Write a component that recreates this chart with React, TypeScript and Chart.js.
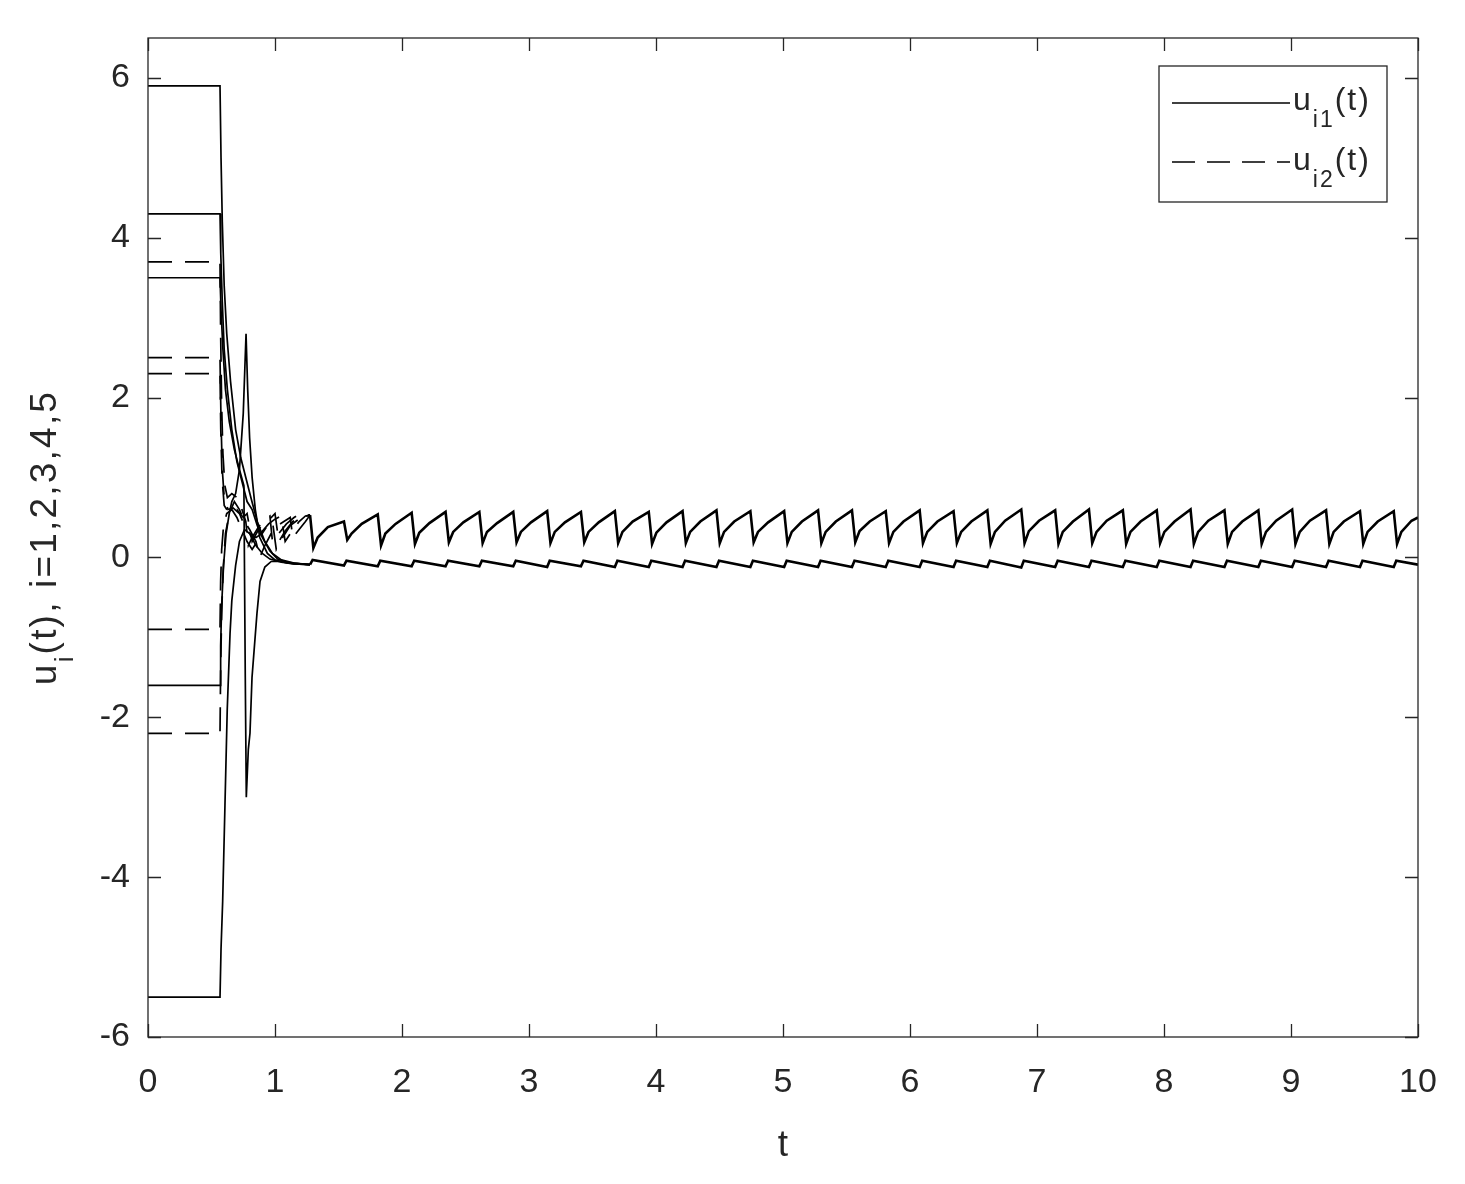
import React, { useEffect, useRef } from "react";
import { Chart, registerables } from "chart.js";

Chart.register(...registerables);

type Pt = [number, number];

// ---- axis ticks ----
const xTicks: number[] = [0, 1, 2, 3, 4, 5, 6, 7, 8, 9, 10];
const yTicks: number[] = [-6, -4, -2, 0, 2, 4, 6];

// ---- u_i1(t) (solid) transients ----
const u11: Pt[] = [[0, 5.9], [0.567, 5.9], [0.575, 5.0], [0.585, 4.2], [0.6, 3.4], [0.62, 2.8], [0.65, 2.2], [0.69, 1.6], [0.73, 1.25], [0.77, 1.0], [0.81, 0.75], [0.86, 0.45], [0.92, 0.2], [0.98, 0.05], [1.05, -0.03], [1.15, -0.07], [1.276, -0.09]];
const u21: Pt[] = [[0, 4.3], [0.567, 4.3], [0.573, 3.8], [0.585, 3.2], [0.6, 2.6], [0.625, 2.1], [0.66, 1.6], [0.7, 1.2], [0.74, 0.95], [0.78, 0.7], [0.82, 0.6], [0.86, 0.4], [0.9, 0.25], [0.96, 0.08], [1.02, -0.02], [1.1, -0.06], [1.2, -0.08], [1.276, -0.09]];
const u31: Pt[] = [[0, 3.5], [0.567, 3.5], [0.575, 3.1], [0.59, 2.6], [0.61, 2.1], [0.64, 1.7], [0.68, 1.35], [0.72, 1.1], [0.755, 0.9], [0.766, -1.5], [0.774, -3.0], [0.79, -2.4], [0.803, -2.2], [0.819, -1.5], [0.858, -0.7], [0.882, -0.3], [0.92, -0.12], [0.97, -0.05], [1.05, -0.05], [1.15, -0.08], [1.276, -0.09]];
const u41: Pt[] = [[0, -1.6], [0.567, -1.6], [0.572, -1.1], [0.58, -0.6], [0.595, -0.1], [0.615, 0.3], [0.64, 0.55], [0.66, 0.7], [0.69, 0.8], [0.72, 1.1], [0.75, 1.8], [0.772, 2.8], [0.785, 2.1], [0.8, 1.5], [0.82, 1.0], [0.845, 0.6], [0.88, 0.25], [0.94, 0.05], [1.0, -0.03], [1.1, -0.07], [1.2, -0.08], [1.276, -0.09]];
const u51: Pt[] = [[0, -5.5], [0.567, -5.5], [0.575, -4.9], [0.588, -4.3], [0.606, -3.1], [0.624, -1.9], [0.646, -0.95], [0.66, -0.54], [0.69, -0.1], [0.72, 0.2], [0.76, 0.35], [0.8, 0.3], [0.85, 0.15], [0.9, 0.05], [0.96, -0.02], [1.05, -0.06], [1.15, -0.08], [1.276, -0.09]];

// ---- u_i2(t) (dashed) transients ----
const u12: Pt[] = [[0, 3.7], [0.567, 3.7], [0.572, 2.8], [0.58, 1.9], [0.59, 1.3], [0.605, 0.9], [0.625, 0.75], [0.66, 0.8], [0.7, 0.75], [0.74, 0.6], [0.77, 0.45], [0.79, 0.15], [0.82, 0.25], [0.87, 0.38], [0.92, 0.48], [0.96, 0.52], [0.98, 0.2], [1.03, 0.3], [1.09, 0.42], [1.15, 0.5], [1.2, 0.55], [1.276, 0.53]];
const u22: Pt[] = [[0, 2.5], [0.567, 2.5], [0.575, 1.7], [0.585, 1.1], [0.6, 0.75], [0.63, 0.6], [0.67, 0.62], [0.72, 0.55], [0.76, 0.4], [0.8, 0.3], [0.85, 0.25], [0.9, 0.3], [0.94, 0.4], [0.98, 0.45], [1.01, 0.1], [1.06, 0.25], [1.12, 0.4], [1.18, 0.47], [1.22, 0.5], [1.276, 0.53]];
const u32: Pt[] = [[0, 2.3], [0.567, 2.3], [0.573, 1.6], [0.583, 1.0], [0.6, 0.65], [0.64, 0.55], [0.7, 0.6], [0.75, 0.5], [0.78, 0.55], [0.82, 0.2], [0.87, 0.35], [0.93, 0.45], [0.97, 0.5], [1.0, 0.55], [1.03, 0.2], [1.08, 0.33], [1.14, 0.45], [1.2, 0.5], [1.276, 0.53]];
const u42: Pt[] = [[0, -0.9], [0.567, -0.9], [0.572, -0.3], [0.58, 0.1], [0.595, 0.4], [0.62, 0.55], [0.66, 0.6], [0.7, 0.5], [0.74, 0.35], [0.78, 0.2], [0.82, 0.1], [0.86, 0.2], [0.9, 0.33], [0.95, 0.42], [1.0, 0.48], [1.05, 0.52], [1.08, 0.2], [1.13, 0.32], [1.19, 0.45], [1.24, 0.52], [1.276, 0.53]];
const u52: Pt[] = [[0, -2.2], [0.567, -2.2], [0.572, -1.4], [0.58, -0.7], [0.592, -0.15], [0.61, 0.3], [0.64, 0.55], [0.68, 0.7], [0.72, 0.6], [0.76, 0.45], [0.8, 0.35], [0.85, 0.2], [0.88, 0.0], [0.92, 0.15], [0.97, 0.3], [1.02, 0.4], [1.07, 0.45], [1.12, 0.5], [1.14, 0.25], [1.19, 0.35], [1.24, 0.45], [1.276, 0.53]];

// ---- steady-state (all agents overlap) ----
const steadyU2: Pt[] = [
  [1.276, 0.53], [1.302, 0.12], [1.336, 0.25], [1.416, 0.38],
  [1.543, 0.45], [1.569, 0.22], [1.603, 0.30], [1.683, 0.42],
  [1.809, 0.54], [1.835, 0.15], [1.869, 0.30], [1.949, 0.42],
  [2.076, 0.56], [2.102, 0.17], [2.136, 0.31], [2.216, 0.43],
  [2.343, 0.57], [2.369, 0.19], [2.403, 0.32], [2.483, 0.44],
  [2.609, 0.57], [2.635, 0.18], [2.669, 0.32], [2.749, 0.43],
  [2.876, 0.57], [2.902, 0.19], [2.936, 0.32], [3.016, 0.44],
  [3.143, 0.58], [3.169, 0.18], [3.203, 0.32], [3.283, 0.44],
  [3.409, 0.57], [3.435, 0.19], [3.469, 0.32], [3.549, 0.44],
  [3.676, 0.58], [3.702, 0.18], [3.736, 0.32], [3.816, 0.45],
  [3.943, 0.57], [3.969, 0.17], [4.003, 0.31], [4.083, 0.44],
  [4.209, 0.58], [4.235, 0.18], [4.269, 0.32], [4.349, 0.45],
  [4.476, 0.59], [4.502, 0.18], [4.536, 0.32], [4.616, 0.45],
  [4.743, 0.58], [4.769, 0.19], [4.803, 0.32], [4.883, 0.44],
  [5.009, 0.58], [5.035, 0.18], [5.069, 0.32], [5.149, 0.45],
  [5.276, 0.59], [5.302, 0.18], [5.336, 0.32], [5.416, 0.45],
  [5.543, 0.59], [5.569, 0.19], [5.603, 0.33], [5.683, 0.45],
  [5.809, 0.58], [5.835, 0.18], [5.869, 0.32], [5.949, 0.45],
  [6.076, 0.59], [6.102, 0.18], [6.136, 0.32], [6.216, 0.45],
  [6.343, 0.58], [6.369, 0.18], [6.403, 0.32], [6.483, 0.45],
  [6.609, 0.59], [6.635, 0.17], [6.669, 0.32], [6.749, 0.46],
  [6.876, 0.60], [6.902, 0.18], [6.936, 0.33], [7.016, 0.46],
  [7.143, 0.59], [7.169, 0.17], [7.203, 0.32], [7.283, 0.45],
  [7.409, 0.60], [7.435, 0.18], [7.469, 0.32], [7.549, 0.46],
  [7.676, 0.59], [7.702, 0.17], [7.736, 0.32], [7.816, 0.45],
  [7.943, 0.59], [7.969, 0.18], [8.003, 0.32], [8.083, 0.45],
  [8.209, 0.60], [8.235, 0.17], [8.269, 0.32], [8.349, 0.46],
  [8.476, 0.59], [8.502, 0.17], [8.536, 0.32], [8.616, 0.45],
  [8.743, 0.59], [8.769, 0.17], [8.803, 0.32], [8.883, 0.46],
  [9.009, 0.60], [9.035, 0.17], [9.069, 0.32], [9.149, 0.46],
  [9.276, 0.59], [9.302, 0.17], [9.336, 0.32], [9.416, 0.45],
  [9.543, 0.58], [9.569, 0.17], [9.603, 0.32], [9.683, 0.45],
  [9.809, 0.58], [9.835, 0.17], [9.869, 0.32], [9.949, 0.46],
  [10.0, 0.50],
];
const steadyU1: Pt[] = [
  [1.276, -0.09], [1.296, -0.03], [1.543, -0.10], [1.563, -0.04], [1.809, -0.11], [1.829, -0.04],
  [2.076, -0.11], [2.096, -0.04], [2.343, -0.11], [2.363, -0.04], [2.609, -0.11], [2.629, -0.04],
  [2.876, -0.11], [2.896, -0.04], [3.143, -0.12], [3.163, -0.04], [3.409, -0.11], [3.429, -0.04],
  [3.676, -0.12], [3.696, -0.04], [3.943, -0.12], [3.963, -0.04], [4.209, -0.12], [4.229, -0.04],
  [4.476, -0.12], [4.496, -0.04], [4.743, -0.12], [4.763, -0.04], [5.009, -0.12], [5.029, -0.04],
  [5.276, -0.12], [5.296, -0.04], [5.543, -0.12], [5.563, -0.04], [5.809, -0.12], [5.829, -0.04],
  [6.076, -0.12], [6.096, -0.04], [6.343, -0.12], [6.363, -0.04], [6.609, -0.12], [6.629, -0.04],
  [6.876, -0.125], [6.896, -0.04], [7.143, -0.12], [7.163, -0.04], [7.409, -0.12], [7.429, -0.04],
  [7.676, -0.12], [7.696, -0.04], [7.943, -0.12], [7.963, -0.04], [8.209, -0.12], [8.229, -0.04],
  [8.476, -0.12], [8.496, -0.04], [8.743, -0.12], [8.763, -0.04], [9.009, -0.12], [9.029, -0.04],
  [9.276, -0.12], [9.296, -0.04], [9.543, -0.12], [9.563, -0.04], [9.809, -0.12], [9.829, -0.04],
  [10.0, -0.09],
];

const solidSeries: Pt[][] = [u11, u21, u31, u41, u51];
const dashedSeries: Pt[][] = [u12, u22, u32, u42, u52];

const AXIS = "#262626";
const FONT = "'Liberation Sans', Arial, Helvetica, sans-serif";
const DASH = [24, 13];

type Part = { t: string; sub?: boolean };

function drawRich(ctx: any, parts: Part[], x: number, y: number, size: number, subSize: number, subDrop: number, align: "left" | "center", spacing: number) {
  ctx.letterSpacing = `${spacing}px`;
  const widths = parts.map((p) => {
    ctx.font = `${p.sub ? subSize : size}px ${FONT}`;
    return ctx.measureText(p.t).width;
  });
  const total = widths.reduce((a: number, b: number) => a + b, 0);
  let cx = align === "center" ? x - total / 2 : x;
  ctx.textAlign = "left";
  ctx.textBaseline = "alphabetic";
  parts.forEach((p, i) => {
    ctx.font = `${p.sub ? subSize : size}px ${FONT}`;
    ctx.fillText(p.t, cx, p.sub ? y + subDrop : y);
    cx += widths[i];
  });
  ctx.letterSpacing = "0px";
}

const framePlugin = {
  id: "matlabFrame",
  afterDraw(chart: any) {
    const { ctx, chartArea: a, scales } = chart;
    const xs = scales.x;
    const ys = scales.y;
    ctx.save();
    ctx.setLineDash([]);
    ctx.strokeStyle = AXIS;
    ctx.lineWidth = 1.3;
    ctx.strokeRect(a.left, a.top, a.right - a.left, a.bottom - a.top);
    const tl = 13;
    ctx.beginPath();
    for (const v of xTicks) {
      const px = Math.round(xs.getPixelForValue(v)) + 0.5;
      ctx.moveTo(px, a.bottom);
      ctx.lineTo(px, a.bottom - tl);
      ctx.moveTo(px, a.top);
      ctx.lineTo(px, a.top + tl);
    }
    for (const v of yTicks) {
      const py = Math.round(ys.getPixelForValue(v)) + 0.5;
      ctx.moveTo(a.left, py);
      ctx.lineTo(a.left + tl, py);
      ctx.moveTo(a.right, py);
      ctx.lineTo(a.right - tl, py);
    }
    ctx.stroke();

    ctx.fillStyle = AXIS;
    // x-axis title
    drawRich(ctx, [{ t: "t" }], (a.left + a.right) / 2, 1148, 37, 26, 0, "center", 0);

    // y-axis title (rotated)
    ctx.save();
    ctx.translate(48, (a.top + a.bottom) / 2);
    ctx.rotate(-Math.PI / 2);
    drawRich(ctx, [{ t: "u" }, { t: "i", sub: true }, { t: "(t), i=1,2,3,4,5" }], 0, 0, 37, 26, 17, "center", 2.2);
    ctx.restore();

    // legend
    const lx = 1151, ly = 58, lw = 228, lh = 136;
    ctx.fillStyle = "#ffffff";
    ctx.fillRect(lx, ly, lw, lh);
    ctx.strokeStyle = AXIS;
    ctx.lineWidth = 1.3;
    ctx.strokeRect(lx, ly, lw, lh);
    ctx.strokeStyle = "#000000";
    ctx.lineWidth = 1.6;
    ctx.beginPath();
    ctx.moveTo(1164, 95);
    ctx.lineTo(1282, 95);
    ctx.stroke();
    ctx.setLineDash([23, 12]);
    ctx.beginPath();
    ctx.moveTo(1164, 154);
    ctx.lineTo(1282, 154);
    ctx.stroke();
    ctx.setLineDash([]);
    ctx.fillStyle = AXIS;
    drawRich(ctx, [{ t: "u" }, { t: "i1", sub: true }, { t: "(t)" }], 1285, 102, 32, 23, 17, "left", 2);
    drawRich(ctx, [{ t: "u" }, { t: "i2", sub: true }, { t: "(t)" }], 1285, 162, 32, 23, 17, "left", 2);
    ctx.restore();
  },
};

const toXY = (s: Pt[]) => s.map(([x, y]) => ({ x, y }));

export default function App() {
  const ref = useRef<HTMLCanvasElement | null>(null);
  useEffect(() => {
    if (!ref.current) return;
    const datasets: any[] = [];
    solidSeries.forEach((s, i) => {
      datasets.push({ label: `u${i + 1}1`, data: toXY(s), borderColor: "#000", borderWidth: 1.7, pointRadius: 0, tension: 0, fill: false });
    });
    dashedSeries.forEach((s, i) => {
      datasets.push({ label: `u${i + 1}2`, data: toXY(s), borderColor: "#000", borderWidth: 1.7, borderDash: DASH, pointRadius: 0, tension: 0, fill: false });
    });
    datasets.push({ label: "steady u_i2", data: toXY(steadyU2), borderColor: "#000", borderWidth: 2.6, pointRadius: 0, tension: 0, fill: false });
    datasets.push({ label: "steady u_i1", data: toXY(steadyU1), borderColor: "#000", borderWidth: 2.6, pointRadius: 0, tension: 0, fill: false });

    const chart = new Chart(ref.current, {
      type: "line",
      data: { datasets },
      options: {
        responsive: false,
        animation: false,
        devicePixelRatio: 1,
        layout: { autoPadding: false, padding: { top: 30, right: 39, left: 0, bottom: 0 } },
        plugins: { legend: { display: false }, tooltip: { enabled: false } },
        scales: {
          x: {
            type: "linear",
            min: 0,
            max: 10,
            afterBuildTicks: (s: any) => { s.ticks = xTicks.map((v) => ({ value: v })); },
            afterFit: (s: any) => { s.height = 139; s.paddingLeft = 0; s.paddingRight = 0; },
            grid: { display: false, drawTicks: false },
            border: { display: false },
            ticks: { color: AXIS, font: { family: FONT, size: 34 }, padding: 25, maxRotation: 0, autoSkip: false },
          },
          y: {
            type: "linear",
            min: -6,
            max: 6.5,
            afterBuildTicks: (s: any) => { s.ticks = yTicks.map((v) => ({ value: v })); },
            afterFit: (s: any) => { s.width = 140; s.paddingTop = 0; s.paddingBottom = 0; },
            grid: { display: false, drawTicks: false },
            border: { display: false },
            ticks: { color: AXIS, font: { family: FONT, size: 34 }, padding: 18, autoSkip: false },
          },
        },
      } as any,
      plugins: [framePlugin],
    });
    return () => chart.destroy();
  }, []);
  return <canvas ref={ref} width={1449} height={1168} style={{ display: "block" }} />;
}
